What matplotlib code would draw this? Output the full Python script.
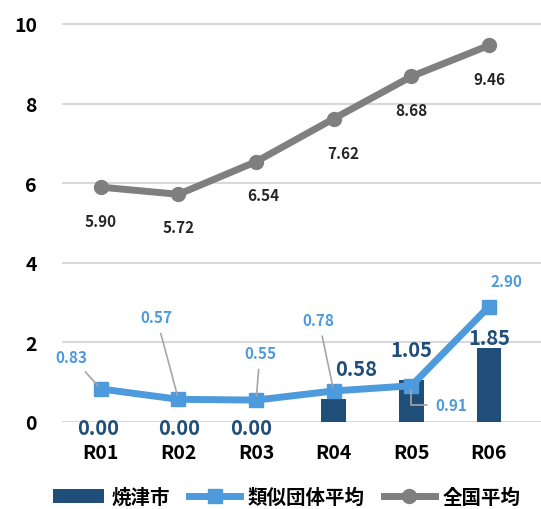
import matplotlib.pyplot as plt
import numpy as np

plt.rcParams['font.family'] = ['Noto Sans CJK JP', 'DejaVu Sans']

# データ
years = ['R01', 'R02', 'R03', 'R04', 'R05', 'R06']
yaizu = [0.00, 0.00, 0.00, 0.58, 1.05, 1.85]
ruiji = [0.83, 0.57, 0.55, 0.78, 0.91, 2.90]
zenkoku = [5.90, 5.72, 6.54, 7.62, 8.68, 9.46]

c_bar = '#1F4E79'
c_blue = '#4D9BDC'
c_gray = '#7F7F7F'

x = np.arange(len(years))

fig = plt.figure(figsize=(5.41, 5.10), dpi=100)
ax = fig.add_axes([0.1146, 0.1706, 0.8854, 0.8039])

bars = ax.bar(x, yaizu, 0.32, color=c_bar, label='焼津市', zorder=2)
ln1, = ax.plot(x, ruiji, color=c_blue, lw=5, marker='s', ms=10, label='類似団体平均', zorder=3)
ln2, = ax.plot(x, zenkoku, color=c_gray, lw=5, marker='o', ms=10, label='全国平均', zorder=3)

ax.set_xlim(-0.5, 5.67)
ax.set_ylim(0, 10.3)
ax.set_yticks([0, 2, 4, 6, 8, 10])
ax.set_xticks(x)
ax.set_xticklabels(years)
for lab in ax.get_xticklabels() + ax.get_yticklabels():
    lab.set_fontsize(14)
    lab.set_fontweight('bold')
ax.tick_params(length=0)
ax.tick_params(axis='y', pad=18)
ax.tick_params(axis='x', pad=15)
for s in ax.spines.values():
    s.set_visible(False)
ax.grid(axis='y', color='#D9D9D9', lw=1.5, zorder=0)

# 焼津市ラベル
bar_off = [(-3, -6), (1, -6), (-5, -6), (22, 30), (0, 31), (0, 11)]
for xi, v, off in zip(x, yaizu, bar_off):
    ax.annotate(f'{v:.2f}', xy=(xi, v), xytext=off, textcoords='offset pixels',
                ha='center', va='center', fontsize=14.5, fontweight='bold', color=c_bar, zorder=4)

# 類似団体平均ラベル
blue_off = [(-29, 32), (-22, 82), (4, 47), (-15, 71), (40, -19), (17, 26)]
leader = [True, True, True, True, True, False]
for i, (xi, v, off, ld) in enumerate(zip(x, ruiji, blue_off, leader)):
    props = None
    if ld:
        props = dict(arrowstyle='-', color='#A6A6A6', lw=1.2, shrinkA=4, shrinkB=3)
        if i == 4:
            props['connectionstyle'] = 'angle,angleA=0,angleB=90,rad=0'
    ax.annotate(f'{v:.2f}', xy=(xi, v), xytext=off, textcoords='offset pixels',
                ha='center', va='center', fontsize=11, fontweight='bold', color=c_blue,
                arrowprops=props, zorder=4)

# 全国平均ラベル
gray_off = [(0, -34), (0, -33), (7, -33), (10, -34), (0, -34), (0, -34)]
for xi, v, off in zip(x, zenkoku, gray_off):
    ax.annotate(f'{v:.2f}', xy=(xi, v), xytext=off, textcoords='offset pixels',
                ha='center', va='center', fontsize=11, fontweight='bold', color='#262626', zorder=4)

leg = fig.legend([bars, ln1, ln2], ['焼津市', '類似団体平均', '全国平均'],
                 loc='center', bbox_to_anchor=(0.53, 0.024), ncol=3, frameon=False,
                 fontsize=14, handlelength=2.6, columnspacing=1.0, handletextpad=0.4)
for t in leg.get_texts():
    t.set_fontweight('bold')

plt.savefig('out.png', dpi=100)
